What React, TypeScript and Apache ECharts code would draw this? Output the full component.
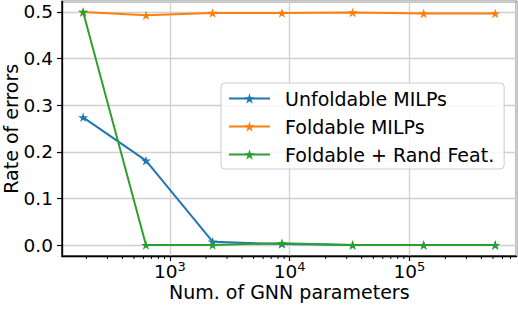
import React, { useEffect, useRef } from "react";
import * as echarts from "echarts";

const params = [188, 630, 2270, 8620, 33600, 131800, 522000];
const unfoldable = [0.274, 0.181, 0.007, 0.002, 0.0, 0.0, 0.0];
const foldable = [0.5, 0.493, 0.498, 0.498, 0.499, 0.497, 0.497];
const foldableRand = [0.5, 0.0, 0.0, 0.004, 0.0, 0.0, 0.0];
const seriesNames = ["Unfoldable MILPs", "Foldable MILPs", "Foldable + Rand Feat."];
const colors = ["#1f77b4", "#ff7f0e", "#2ca02c"];
const minorTicks = [
  200, 300, 400, 500, 600, 700, 800, 900,
  2000, 3000, 4000, 5000, 6000, 7000, 8000, 9000,
  20000, 30000, 40000, 50000, 60000, 70000, 80000, 90000,
  200000, 300000, 400000, 500000, 600000, 700000,
];
const xMin = 125.2;
const xMax = 786500;
const yMin = -0.0236;
const yMax = 0.5225;

const STAR =
  "path://M0,-1 L0.2245,-0.309 L0.951,-0.309 L0.3633,0.118 L0.5878,0.809 L0,0.382 L-0.5878,0.809 L-0.3633,0.118 L-0.951,-0.309 L-0.2245,-0.309 Z";

const FONT = "DejaVu Sans";

export default function App() {
  const ref = useRef<HTMLDivElement>(null);
  useEffect(() => {
    const chart = echarts.init(ref.current!, null, { renderer: "svg" });
    const data = [unfoldable, foldable, foldableRand];
    const lineSeries = data.map((vals, i) => ({
      name: seriesNames[i],
      type: "line",
      data: params.map((p, j) => [p, vals[j]]),
      symbol: STAR,
      symbolSize: 10,
      symbolKeepAspect: true,
      showSymbol: true,
      lineStyle: { color: colors[i], width: 2 },
      itemStyle: { color: colors[i] },
      z: 3 + i,
    }));
    chart.setOption({
      animation: false,
      textStyle: { fontFamily: FONT },
      grid: {
        left: 62,
        right: 1.5,
        top: 1.5,
        bottom: 54,
        containLabel: false,
        outerBoundsMode: "none",
        show: true,
        borderColor: "#000",
        borderWidth: 1.5,
        backgroundColor: "rgba(0,0,0,0)",
      },
      legend: {
        orient: "vertical",
        left: 221,
        top: 83,
        padding: [6, 10, 5, 7],
        itemWidth: 41,
        itemHeight: 13,
        itemGap: 9,
        backgroundColor: "rgba(255,255,255,0.8)",
        borderColor: "#cccccc",
        borderWidth: 1,
        borderRadius: 4,
        textStyle: {
          fontFamily: FONT,
          fontSize: 19,
          color: "#000",
          padding: [0, 0, 0, 10],
        },
        data: seriesNames,
      },
      xAxis: {
        type: "log",
        logBase: 10,
        min: xMin,
        max: xMax,
        name: "Num. of GNN parameters",
        nameLocation: "middle",
        nameGap: 26,
        nameMoveOverlap: false,
        nameTextStyle: { fontFamily: FONT, fontSize: 19, color: "#000" },
        axisLine: { show: true, onZero: false, lineStyle: { color: "#000", width: 1.3 } },
        axisTick: { show: true, inside: false, length: 5, lineStyle: { color: "#000", width: 1.2 } },
        axisLabel: {
          margin: 4,
          showMinLabel: false,
          showMaxLabel: false,
          formatter: (v: number) => {
            const e = Math.round(Math.log10(v));
            if (Math.abs(Math.log10(v) - e) > 1e-6) return "";
            return `{b|10}{s|${e}}`;
          },
          rich: {
            b: { fontFamily: FONT, fontSize: 18.5, color: "#000", verticalAlign: "bottom" },
            s: { fontFamily: FONT, fontSize: 13, color: "#000", verticalAlign: "top", padding: [0, 0, 8, 0] },
          },
        },
        splitLine: { show: true, lineStyle: { color: "#d0d0d0", width: 1.3 } },
      },
      yAxis: {
        type: "value",
        min: yMin,
        max: yMax,
        splitNumber: 5,
        name: "Rate of errors",
        nameLocation: "middle",
        nameGap: 42,
        nameMoveOverlap: false,
        nameTextStyle: { fontFamily: FONT, fontSize: 19, color: "#000" },
        axisLine: { show: true, onZero: false, lineStyle: { color: "#000", width: 1.3 } },
        axisTick: { show: true, inside: false, length: 5, lineStyle: { color: "#000", width: 1.2 } },
        axisLabel: {
          margin: 9,
          showMinLabel: false,
          showMaxLabel: false,
          fontFamily: FONT,
          fontSize: 18.5,
          color: "#000",
          formatter: (v: number) => v.toFixed(1),
        },
        splitLine: { show: true, lineStyle: { color: "#d0d0d0", width: 1.3 } },
      },
      series: [
        {
          type: "custom",
          silent: true,
          clip: false,
          z: 1,
          data: minorTicks.map((v) => [v]),
          encode: { x: 0 },
          renderItem: (p: any, api: any) => {
            const x = api.coord([api.value(0), yMin])[0];
            const yb = p.coordSys.y + p.coordSys.height;
            return {
              type: "line",
              shape: { x1: x, y1: yb, x2: x, y2: yb + 3 },
              style: { stroke: "#000", lineWidth: 1 },
            };
          },
        },
        ...lineSeries,
      ],
    });
    return () => chart.dispose();
  }, []);
  return (
    <div
      ref={ref}
      style={{ position: "absolute", left: 0, top: 0, width: 518, height: 310 }}
    />
  );
}
